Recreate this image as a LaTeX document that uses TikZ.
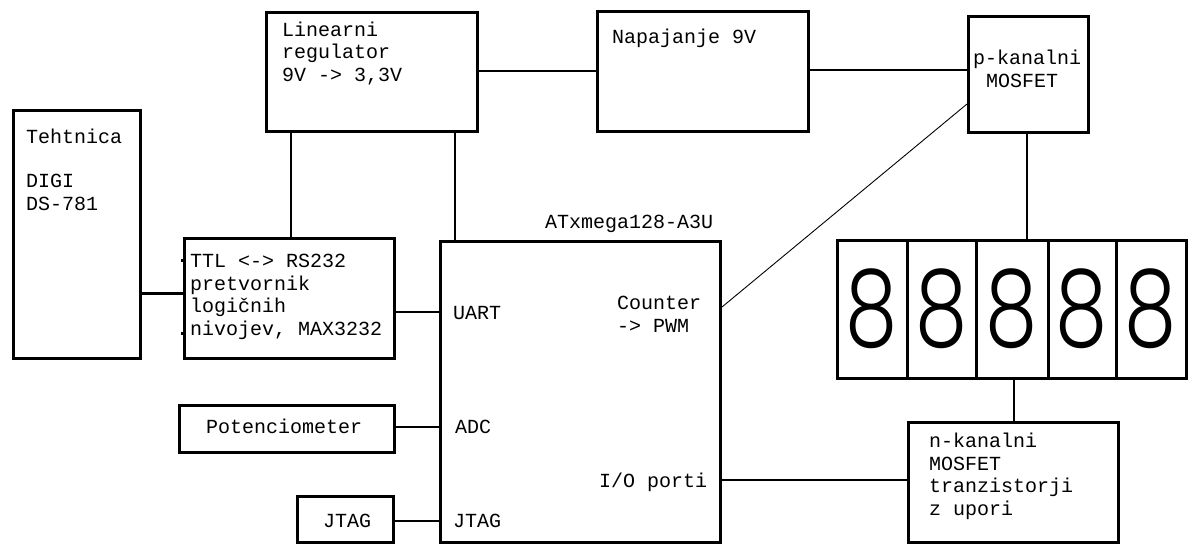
\documentclass[tikz,border=0pt]{standalone}
\usepackage{fontspec}
\setmonofont{Liberation Mono}
\newfontfamily\digfont{Poppins Light}
\begin{document}
\begin{tikzpicture}[x=1pt,y=-1pt,
  box/.style={draw, line width=3pt, inner sep=0pt, anchor=north west},
  wire/.style={line width=1.2pt},
  thinwire/.style={line width=0.9pt},
  heavywire/.style={line width=3pt},
  txt/.style={font=\fontsize{20}{22.5}\selectfont\ttfamily, inner sep=0pt, anchor=base west, align=left},
  digit/.style={box, anchor=center, minimum height=138pt, font=\digfont\fontsize{107}{107}\selectfont},
]
\useasboundingbox (0,0) rectangle (1188,544);

% boxes
\node[box, minimum width=127pt, minimum height=248pt] (teht) at (12,109) {};
\node[box, minimum width=210pt, minimum height=120pt] (ttl) at (183,237) {};
\node[box, minimum width=211pt, minimum height=119pt] (reg) at (265,11) {};
\node[box, minimum width=211pt, minimum height=120pt] (nap) at (596,10) {};
\node[box, minimum width=120pt, minimum height=116pt] (pmos) at (967,15) {};
\node[box, minimum width=280pt, minimum height=301pt] (atx) at (439,240) {};
\node[box, minimum width=215pt, minimum height=47pt] (pot) at (178,404) {};
\node[box, minimum width=96pt, minimum height=46pt] (jtag) at (296,495) {};
\node[box, minimum width=210pt, minimum height=120pt] (nmos) at (907,421) {};

% display
\node[digit, minimum width=70pt] (c1) at (872,309) {\scalebox{0.78}[1]{8}};
\node[digit, minimum width=69pt] (c2) at (941.5,309) {\scalebox{0.78}[1]{8}};
\node[digit, minimum width=72pt] (c3) at (1012,309) {\scalebox{0.78}[1]{8}};
\node[digit, minimum width=68pt] (c4) at (1082,309) {\scalebox{0.78}[1]{8}};
\node[digit, minimum width=70pt] (c5) at (1151,309) {\scalebox{0.78}[1]{8}};

% texts (base anchor = baseline of the last line)
\node[txt] (t1) at (26,143) {Tehtnica};
\node[txt] (t2) at (26,210) {DIGI\\DS-781};
\node[txt] (t3) at (190,335) {TTL <-> RS232\\pretvornik\\logičnih\\nivojev, MAX3232};
\node[txt] (t4) at (282,81) {Linearni\\regulator\\9V -> 3,3V};
\node[txt] (t5) at (612,43) {Napajanje 9V};
\node[txt] (t6) at (973,64) {p-kanalni};
\node[txt] (t7) at (986,87) {MOSFET};
\node[txt] (t8) at (545,228) {ATxmega128-A3U};
\node[txt] (t9) at (453,319) {UART};
\node[txt] (t10) at (617,332) {Counter\\-> PWM};
\node[txt] (t11) at (455,433) {ADC};
\node[txt] (t12) at (599,487) {I/O porti};
\node[txt] (t13) at (453,527) {JTAG};
\node[txt] (t14) at (206,433) {Potenciometer};
\node[txt] (t15) at (323,527) {JTAG};
\node[txt] (t16) at (929,515) {n-kanalni\\MOSFET\\tranzistorji\\z upori};

% connectors
\draw[heavywire] (teht.east |- 0,293) -- (ttl.west |- 0,293);
\draw[heavywire] (ttl.west |- 0,260) -- ++(-2.5,0);
\draw[heavywire] (ttl.west |- 0,333) -- ++(-2.5,0);
\draw[wire] (reg.south -| 291,0) -- (ttl.north -| 291,0);
\draw[wire] (reg.south -| 455,0) -- (atx.north -| 455,0);
\draw[wire] (reg.east |- 0,71) -- (nap.west |- 0,71);
\draw[wire] (nap.east |- 0,70) -- (pmos.west |- 0,70);
\draw[wire] (pmos.south -| 1027,0) -- (c3.north -| 1027,0);
\draw[thinwire] (pmos.west |- 0,104) -- (atx.east |- 0,307);
\draw[wire] (ttl.east |- 0,312) -- (atx.west |- 0,312);
\draw[wire] (pot.east |- 0,427) -- (atx.west |- 0,427);
\draw[wire] (jtag.east |- 0,521) -- (atx.west |- 0,521);
\draw[wire] (atx.east |- 0,480) -- (nmos.west |- 0,480);
\draw[wire] (c3.south -| 1014,0) -- (nmos.north -| 1014,0);
\end{tikzpicture}
\end{document}
